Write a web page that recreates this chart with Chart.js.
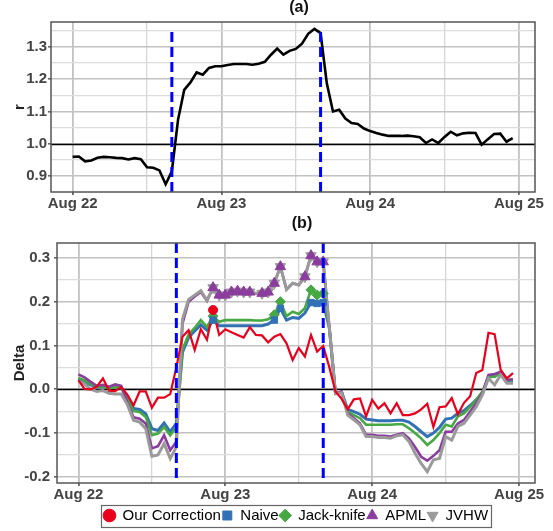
<!DOCTYPE html>
<html>
<head>
<meta charset="utf-8">
<script src="https://cdn.jsdelivr.net/npm/chart.js@4.4.0/dist/chart.umd.min.js"></script>
<style>
  html, body { margin: 0; padding: 0; background: #fff; overflow: hidden; }
  #wrap { position: relative; width: 553px; height: 531px; overflow: hidden; }
  #chartA { position: absolute; left: 0; top: 0; }
  #chartB { position: absolute; left: 0; top: 212px; }
</style>
</head>
<body>
<div id="wrap">
  <canvas id="chartA" width="553" height="212"></canvas>
  <canvas id="chartB" width="553" height="321"></canvas>
</div>
<script>
// ---------- data ----------
// hourly samples starting Aug 22 00:00
const hours = Array.from({ length: 72 }, (_, i) => i);
const dayLabels = ["Aug 22", "Aug 23", "Aug 24", "Aug 25"];
const xTickHours = [0, 12, 24, 36, 48, 60, 72];
const eventHours = [16, 40];

const rTicks = [0.9, 0.95, 1.0, 1.05, 1.1, 1.15, 1.2, 1.25, 1.3, 1.35];
const deltaTicks = [-0.2, -0.15, -0.1, -0.05, 0, 0.05, 0.1, 0.15, 0.2, 0.25, 0.3];

const rValues = [
  0.959, 0.960, 0.945, 0.948, 0.956, 0.959, 0.958, 0.956, 0.955, 0.951, 0.955, 0.952,
  0.927, 0.925, 0.917, 0.874, 0.914, 1.074, 1.167, 1.190, 1.221, 1.214, 1.235, 1.240,
  1.240, 1.244, 1.247, 1.247, 1.247, 1.245, 1.248, 1.254, 1.276, 1.295, 1.276, 1.288,
  1.294, 1.310, 1.341, 1.356, 1.343, 1.188, 1.100, 1.105, 1.078, 1.064, 1.061, 1.047,
  1.039, 1.033, 1.028, 1.024, 1.024, 1.024, 1.025, 1.023, 1.020, 1.002, 1.013, 1.002,
  1.021, 1.037, 1.026, 1.032, 1.034, 1.033, 0.997, 1.014, 1.030, 1.031, 1.006, 1.017
];

const ourCorrection = [
  0.021, 0.001, 0.000, 0.006, 0.025, -0.003, -0.004, 0.005, -0.012, -0.037, -0.005, -0.005,
  -0.042, -0.019, -0.019, -0.011, 0.050, 0.120, 0.135, 0.090, 0.137, 0.113, 0.181, 0.124,
  0.137, 0.130, 0.124, 0.118, 0.142, 0.124, 0.123, 0.107, 0.120, 0.126, 0.105, 0.067,
  0.094, 0.075, 0.124, 0.086, 0.099, 0.050, -0.005, -0.022, -0.046, -0.023, -0.021, -0.062,
  -0.024, -0.044, -0.032, -0.055, -0.032, -0.059, -0.059, -0.055, -0.046, -0.033, -0.086, -0.041,
  -0.039, -0.020, -0.057, -0.031, -0.016, 0.037, 0.044, 0.129, 0.126, 0.044, 0.025, 0.037
];
const naive = [
  0.023, 0.017, 0.010, 0.005, 0.006, 0.003, 0.006, 0.004, -0.020, -0.044, -0.046, -0.056,
  -0.090, -0.094, -0.077, -0.097, -0.078, 0.085, 0.118, 0.133, 0.147, 0.135, 0.158, 0.145,
  0.145, 0.145, 0.145, 0.145, 0.145, 0.145, 0.145, 0.149, 0.158, 0.185, 0.158, 0.164,
  0.162, 0.174, 0.198, 0.196, 0.198, 0.140, -0.009, -0.006, -0.046, -0.051, -0.057, -0.068,
  -0.070, -0.072, -0.072, -0.072, -0.071, -0.071, -0.075, -0.085, -0.097, -0.108, -0.100, -0.087,
  -0.068, -0.066, -0.055, -0.049, -0.037, -0.024, -0.011, 0.029, 0.029, 0.040, 0.018, 0.015
];
const jackKnife = [
  0.026, 0.020, 0.012, 0.006, 0.006, 0.002, 0.005, 0.003, -0.023, -0.050, -0.052, -0.063,
  -0.105, -0.101, -0.086, -0.105, -0.086, 0.090, 0.125, 0.140, 0.158, 0.142, 0.167, 0.154,
  0.158, 0.158, 0.158, 0.158, 0.158, 0.157, 0.157, 0.160, 0.170, 0.200, 0.167, 0.177,
  0.172, 0.185, 0.227, 0.215, 0.219, 0.140, -0.009, -0.006, -0.051, -0.059, -0.066, -0.081,
  -0.081, -0.081, -0.081, -0.081, -0.080, -0.080, -0.089, -0.100, -0.112, -0.127, -0.116, -0.100,
  -0.081, -0.085, -0.062, -0.055, -0.040, -0.024, -0.005, 0.027, 0.029, 0.036, 0.021, 0.021
];
const apml = [
  0.034, 0.027, 0.017, 0.008, 0.010, 0.006, 0.011, 0.008, -0.030, -0.064, -0.067, -0.078,
  -0.135, -0.130, -0.105, -0.139, -0.120, 0.150, 0.200, 0.212, 0.222, 0.202, 0.232, 0.215,
  0.215, 0.222, 0.224, 0.222, 0.222, 0.219, 0.219, 0.222, 0.242, 0.280, 0.228, 0.242,
  0.238, 0.257, 0.305, 0.291, 0.291, 0.140, -0.010, -0.005, -0.055, -0.066, -0.078, -0.104,
  -0.104, -0.106, -0.106, -0.108, -0.104, -0.100, -0.112, -0.132, -0.154, -0.163, -0.152, -0.139,
  -0.097, -0.097, -0.078, -0.070, -0.051, -0.032, -0.009, 0.033, 0.035, 0.040, 0.021, 0.023
];
const jvhw = [
  0.019, 0.012, 0.000, -0.005, -0.003, -0.009, -0.011, -0.011, -0.035, -0.071, -0.075, -0.090,
  -0.153, -0.150, -0.124, -0.158, -0.132, 0.160, 0.205, 0.215, 0.225, 0.203, 0.232, 0.215,
  0.215, 0.222, 0.224, 0.222, 0.222, 0.219, 0.219, 0.222, 0.242, 0.280, 0.228, 0.242,
  0.238, 0.257, 0.305, 0.291, 0.291, 0.140, -0.010, -0.008, -0.059, -0.070, -0.081, -0.108,
  -0.108, -0.110, -0.110, -0.112, -0.106, -0.104, -0.119, -0.146, -0.169, -0.188, -0.161, -0.158,
  -0.108, -0.116, -0.085, -0.078, -0.059, -0.040, -0.013, 0.025, 0.010, 0.033, 0.014, 0.014
];

// hours that carry a marker
const ourMarks = [22];
const naiveMarks = [22, 32, 33, 38, 39, 40];
const jackMarks = [22, 32, 33, 38, 39, 40];
const apmlMarks = [22, 23, 24, 25, 26, 27, 28, 30, 31, 32, 33, 37, 38, 39, 40];
const jvhwMarks = [22, 23, 24, 25, 26, 27, 28, 30, 31, 32, 33, 37, 38, 39, 40];

// ---------- helpers ----------
const tickFont = { family: "'Liberation Sans', Arial, sans-serif", size: 15, weight: "bold" };
const isMajorX = v => v % 24 === 0;
const isMajorY = v => Math.abs(Math.round(v * 10) - v * 10) < 1e-6;

const panelDecor = {
  id: "panelDecor",
  beforeDatasetsDraw(chart, args, opts) {
    const { ctx, chartArea: a, scales: { y } } = chart;
    const py = Math.round(y.getPixelForValue(opts.refValue)) + 0.5;
    ctx.save();
    ctx.strokeStyle = "#000";
    ctx.lineWidth = 1.5;
    ctx.beginPath();
    ctx.moveTo(a.left, py);
    ctx.lineTo(a.right, py);
    ctx.stroke();
    ctx.restore();
  },
  afterDatasetsDraw(chart, args, opts) {
    const { ctx, chartArea: a, scales: { x } } = chart;
    ctx.save();
    ctx.strokeStyle = "#0000ff";
    ctx.lineWidth = 3;
    ctx.setLineDash([10, 5]);
    eventHours.forEach(h => {
      const px = x.getPixelForValue(h);
      ctx.beginPath();
      ctx.moveTo(px, a.top + opts.dashStart);
      ctx.lineTo(px, a.bottom);
      ctx.stroke();
    });
    ctx.setLineDash([]);
    ctx.strokeStyle = "#555";
    ctx.lineWidth = 1.5;
    ctx.strokeRect(a.left, a.top, a.right - a.left, a.bottom - a.top);
    ctx.restore();
  },
  afterDraw(chart, args, opts) {
    const { ctx, chartArea: a } = chart;
    ctx.save();
    ctx.fillStyle = "#111";
    ctx.font = "bold 16px 'Liberation Sans', Arial, sans-serif";
    ctx.textAlign = "center";
    ctx.textBaseline = "middle";
    ctx.fillText(opts.title, (a.left + a.right) / 2 + 6, opts.titleY);
    ctx.restore();
    const lg = chart.legend;
    if (opts.legendFrame && lg && lg.legendHitBoxes.length) {
      const hb = lg.legendHitBoxes;
      const x0 = Math.min(...hb.map(b => b.left)) - 3;
      const x1 = Math.max(...hb.map(b => b.left + b.width)) + 3;
      const y0 = hb[0].top - 3.5;
      const y1 = hb[0].top + hb[0].height + 3.5;
      ctx.save();
      ctx.strokeStyle = "#666";
      ctx.lineWidth = 1.2;
      ctx.strokeRect(Math.round(x0) + 0.5, Math.round(y0) + 0.5, Math.round(x1 - x0), Math.round(y1 - y0));
      ctx.restore();
    }
  }
};

function xScale(height) {
  return {
    type: "linear",
    min: -3.5,
    max: 74.6,
    afterBuildTicks: s => { s.ticks = xTickHours.map(v => ({ value: v })); },
    afterFit: s => { s.height = height; },
    ticks: {
      font: tickFont, color: "#444", padding: 0, maxRotation: 0, autoSkip: false,
      callback: v => isMajorX(v) ? dayLabels[v / 24] : ""
    },
    grid: {
      tickLength: 3,
      tickColor: c => isMajorX(c.tick.value) ? "#666" : "rgba(0,0,0,0)",
      color: c => isMajorX(c.tick.value) ? "#c2c2c2" : "#d6d6d6",
      lineWidth: c => isMajorX(c.tick.value) ? 1.8 : 1.3
    },
    border: { display: false }
  };
}

function yScale(min, max, ticks, width, title, pad) {
  return {
    min, max,
    afterBuildTicks: s => { s.ticks = ticks.map(v => ({ value: v })); },
    afterFit: s => { s.width = width; },
    title: { display: true, text: title, font: tickFont, color: "#222", padding: { top: 11, bottom: 0 } },
    ticks: {
      font: tickFont, color: "#444", padding: pad, autoSkip: false,
      callback: v => isMajorY(v) ? v.toFixed(1) : ""
    },
    grid: {
      tickLength: 3,
      tickColor: c => isMajorY(c.tick.value) ? "#666" : "rgba(0,0,0,0)",
      color: c => isMajorY(c.tick.value) ? "#c2c2c2" : "#dcdcdc",
      lineWidth: c => isMajorY(c.tick.value) ? 1.6 : 1.3
    },
    border: { display: false }
  };
}

const toPoints = vals => hours.map((h, i) => ({ x: h, y: vals[i] }));
const toMarks = (vals, marks) => marks.map(h => ({ x: h, y: vals[hours.indexOf(h)] }));

// ---------- panel (a) ----------
new Chart(document.getElementById("chartA"), {
  type: "line",
  data: {
    datasets: [{
      label: "r",
      data: toPoints(rValues),
      borderColor: "#000",
      borderWidth: 2.6,
      pointRadius: 0,
      tension: 0
    }]
  },
  options: {
    responsive: false,
    animation: false,
    layout: { padding: { top: 22, right: 18, left: 0, bottom: 0 } },
    plugins: {
      legend: { display: false },
      tooltip: { enabled: false },
      panelDecor: { refValue: 1.0, title: "(a)", titleY: 8, dashStart: 10, legendFrame: false }
    },
    scales: {
      x: xScale(20),
      y: yScale(0.85, 1.3775, rTicks, 51, "r", 1)
    }
  },
  plugins: [panelDecor]
});

// ---------- panel (b) ----------
const names = ["Our Correction", "Naive", "Jack-knife", "APML", "JVHW"];
const series = [ourCorrection, naive, jackKnife, apml, jvhw];
const marks = [ourMarks, naiveMarks, jackMarks, apmlMarks, jvhwMarks];
const colors = ["#e8001c", "#3371b5", "#46a843", "#8b3d9d", "#9a9a9a"];
const lineWidths = [2.2, 3, 2.6, 2.6, 3];
const lineOrder = [5, 9, 8, 7, 6];
const pointStyles = ["circle", "rect", "rectRot", "triangle", "triangle"];
const pointRotations = [0, 0, 0, 0, 180];
const pointSizes = [4.5, 4.5, 5, 6, 6];

const datasets = [];
series.forEach((vals, i) => {
  datasets.push({
    label: names[i],
    data: toMarks(vals, marks[i]),
    showLine: false,
    order: i,
    pointStyle: pointStyles[i],
    rotation: pointRotations[i],
    pointRotation: pointRotations[i],
    pointRadius: pointSizes[i],
    backgroundColor: colors[i],
    borderColor: colors[i],
    borderWidth: 1
  });
});
series.forEach((vals, i) => {
  datasets.push({
    label: names[i] + " line",
    data: toPoints(vals),
    order: lineOrder[i],
    borderColor: colors[i],
    borderWidth: lineWidths[i],
    pointRadius: 0,
    tension: 0
  });
});

new Chart(document.getElementById("chartB"), {
  type: "line",
  data: { datasets },
  options: {
    responsive: false,
    animation: false,
    layout: { padding: { top: 31, right: 18, left: 0, bottom: 0 } },
    plugins: {
      tooltip: { enabled: false },
      legend: {
        position: "bottom",
        fullSize: false,
        labels: {
          filter: item => item.datasetIndex < 5,
          usePointStyle: true,
          boxWidth: 11,
          boxHeight: 9,
          padding: 1,
          color: "#000",
          font: { family: "'Liberation Sans', Arial, sans-serif", size: 15 }
        }
      },
      panelDecor: { refValue: 0, title: "(b)", titleY: 12, dashStart: 0, legendFrame: true }
    },
    scales: {
      x: xScale(24),
      y: yScale(-0.214, 0.334, deltaTicks, 57, "Delta", 4)
    }
  },
  plugins: [panelDecor]
});
</script>
</body>
</html>
